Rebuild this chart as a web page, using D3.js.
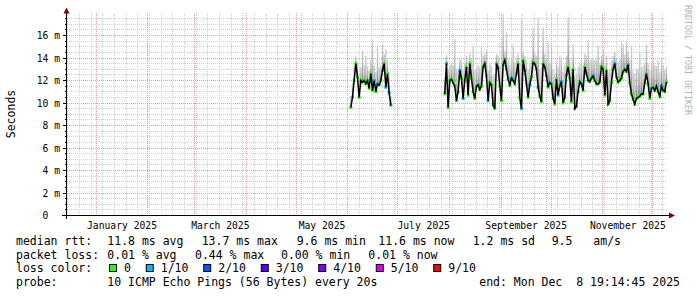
<!DOCTYPE html>
<html><head><meta charset="utf-8">
<script src="https://cdn.jsdelivr.net/npm/d3@7"></script>
<style>
html,body{margin:0;padding:0;background:#fff;}
svg{display:block;}
text{font-family:"DejaVu Sans Mono",monospace;}
</style></head>
<body><svg id="c" width="697" height="297"></svg>
<script>
// ---------- DATA ----------
const yTicks = [0, 2, 4, 6, 8, 10, 12, 14, 16];
const yTickLabels = ["0", "2 m", "4 m", "6 m", "8 m", "10 m", "12 m", "14 m", "16 m"];
const monthLabels = ["January 2025", "March 2025", "May 2025", "July 2025", "September 2025", "November 2025"];
const monthLabelStarts = ["2025-01-01", "2025-03-01", "2025-05-01", "2025-07-01", "2025-09-01", "2025-11-01"];

// segment 1: daily samples from 2025-06-02
const seg1Start = "2025-06-02T07:00:00Z";
const seg1Median = [9.6,10.5,12.0,13.5,12.3,10.5,12.0,11.85,12.0,11.7,12.0,11.3,12.6,11.1,12.0,11.0,11.7,11.6,12.0,12.9,13.5,11.4,12.6,10.9,9.8];
const seg1SmokeHi = [10.6,11.8,13.3,14.2,13.6,12.2,13.2,14.7,13.4,14.2,13.3,12.9,13.8,15.6,13.4,12.8,15.1,13.2,13.4,15.3,14.4,14.8,13.8,12.4,10.6];
const seg1Loss = [0,0,0,0,0,0,0,0,0,0,0,0,0,0,1,0,1,0,0,1,0,1,0,1,1];

// segment 2: daily samples from 2025-07-28
const seg2Start = "2025-07-28T16:00:00Z";
const seg2Median = [
 10.8,13.5,9.6,12.0,12.1,11.8,11.5,10.2,11.0,12.9,
 12.2,10.4,12.0,13.2,10.7,13.5,12.2,11.0,10.4,11.5,
 11.6,11.2,11.5,13.2,13.5,12.4,10.2,11.8,11.6,9.8,
 9.5,13.5,13.1,11.5,10.2,13.4,13.8,13.0,12.1,11.6,
 12.2,12.0,11.7,12.6,13.5,10.5,9.5,13.8,12.9,11.7,
 10.5,11.6,12.3,13.6,13.5,13.0,11.4,10.6,10.1,13.5,
 13.2,12.4,11.4,11.8,11.7,10.4,9.9,12.1,10.7,11.5,
 11.9,10.0,10.5,12.5,13.2,12.2,10.1,13.0,9.5,9.7,
 11.0,11.9,11.7,11.1,13.2,12.6,12.0,11.9,12.2,12.4,
 12.0,11.7,11.7,11.85,13.2,13.0,10.7,12.9,9.9,10.2,
 11.8,13.0,13.5,12.3,11.85,12.0,12.2,12.8,13.0,12.8,
 13.4,11.8,10.8,10.3,9.9,10.4,10.5,10.6,10.8,10.8,
 11.8,12.6,11.7,10.4,11.3,11.4,11.1,11.5,11.0,10.6,
 11.5,11.1,11.0,11.85];
const seg2SmokeHi = [
 12.2,14.3,13.0,13.4,13.6,13.3,15.7,13.0,12.8,14.0,
 13.8,12.9,13.6,14.2,13.2,14.4,13.9,15.1,12.9,13.2,
 13.4,13.2,15.0,14.2,14.4,14.7,12.9,13.6,13.3,12.4,
 12.6,14.4,14.2,13.4,13.2,17.9,14.6,16.3,13.8,13.4,
 13.9,15.2,13.6,14.0,14.4,13.5,17.6,14.6,14.2,13.8,
 13.0,13.6,14.0,16.7,14.4,14.2,17.6,13.0,13.2,16.7,
 14.4,14.1,15.4,13.6,15.5,13.0,12.6,13.8,13.2,14.2,
 13.9,12.8,13.4,14.2,17.6,14.0,13.0,15.2,12.4,12.6,
 13.2,13.6,13.8,13.4,14.4,14.2,15.5,13.8,14.0,14.0,
 13.8,13.9,15.1,13.6,14.2,14.8,13.4,14.2,12.8,13.0,
 13.8,14.2,14.5,14.0,13.6,13.9,15.5,15.2,14.3,15.4,
 14.6,13.8,15.0,12.9,12.6,13.0,13.1,14.5,13.2,13.3,
 13.6,15.2,13.5,12.9,13.5,13.9,13.4,13.3,13.8,12.8,
 13.9,13.4,13.0,13.2];
const seg2Loss = [
 0,1,0,0,0,0,0,0,0,1,
 0,1,0,0,0,0,0,0,0,0,
 1,0,0,0,0,0,1,0,0,0,
 0,0,1,0,0,0,0,0,0,0,
 1,0,0,0,0,0,1,0,1,0,
 0,1,0,0,0,0,1,0,0,0,
 0,1,0,1,0,0,0,0,1,0,
 1,0,0,1,0,0,0,0,0,0,
 0,0,1,0,0,0,1,0,0,1,
 0,0,1,0,0,0,0,0,0,0,
 0,0,1,0,0,0,0,0,0,0,
 1,0,0,0,0,0,0,0,1,0,
 0,0,0,0,1,0,0,0,0,0,
 1,0,0,0];

const lossLabels = ["0", "1/10", "2/10", "3/10", "4/10", "5/10", "9/10"];
const lossColors = ["#26ff00", "#00b8ff", "#0059ff", "#5e00ff", "#7e00ff", "#dd00ff", "#ff0000"];

const legendRtt = ["11.8 ms avg", "13.7 ms max", "9.6 ms min", "11.6 ms now", "1.2 ms sd", "9.5", "am/s"];
const legendLoss = ["0.01 % avg", "0.44 % max", "0.00 % min", "0.01 % now"];
const probeText = "10 ICMP Echo Pings (56 Bytes) every 20s";
const endText = "end: Mon Dec  8 19:14:45 2025";

// ---------- DRAW ----------
const svg = d3.select("#c");
const t0 = new Date(Date.UTC(2024, 11, 14, 12)), t1 = new Date(Date.UTC(2025, 11, 9, 12));
const x = d3.scaleUtc().domain([t0, t1]).range([67, 667]);
const y = d3.scaleLinear().domain([0, 18]).range([215.5, 13]);
const c = v => Math.round(v - 0.5) + 0.5;
const DAY = 86400000;
const pxDay = x(new Date(t0.getTime() + DAY)) - x(t0);

svg.append("rect").attr("width", 697).attr("height", 297).attr("fill", "#fff");

const grid = svg.append("g");
d3.range(0.5, 18, 0.5).filter(v => v % 2 !== 0).forEach(v => {
  grid.append("line").attr("x1", 67).attr("x2", 667).attr("y1", c(y(v))).attr("y2", c(y(v)))
    .attr("stroke", "#cfcfcf").attr("stroke-dasharray", "1,1");
});
const months = d3.utcMonth.range(t0, t1);
d3.utcSunday.range(t0, t1).filter(d => d.getUTCDate() !== 1).forEach(d => {
  grid.append("line").attr("x1", c(x(d))).attr("x2", c(x(d))).attr("y1", 13).attr("y2", 215)
    .attr("stroke", "#cfcfcf").attr("stroke-dasharray", "1,1");
});
yTicks.filter(v => v > 0).forEach(v => {
  grid.append("line").attr("x1", 67).attr("x2", 667).attr("y1", c(y(v))).attr("y2", c(y(v)))
    .attr("stroke", "#ec9a9a").attr("stroke-dasharray", "1,1");
});
months.forEach(d => {
  grid.append("line").attr("x1", c(x(d))).attr("x2", c(x(d))).attr("y1", 13).attr("y2", 215)
    .attr("stroke", "#ec9a9a").attr("stroke-dasharray", "1,1");
});

const defs = svg.append("defs");
const gr = defs.append("linearGradient").attr("id", "smoke").attr("x1", 0).attr("y1", 0).attr("x2", 0).attr("y2", 1);
gr.append("stop").attr("offset", "0%").attr("stop-color", "#d0d0d0");
gr.append("stop").attr("offset", "50%").attr("stop-color", "#b8b8b8");
gr.append("stop").attr("offset", "100%").attr("stop-color", "#7c7c7c");

function buildSeg(start, med, hi, loss) {
  const s = new Date(start).getTime();
  return med.map((m, i) => ({ t: new Date(s + i * DAY), m, hi: hi[i], loss: loss[i] }));
}
const segs = [buildSeg(seg1Start, seg1Median, seg1SmokeHi, seg1Loss),
              buildSeg(seg2Start, seg2Median, seg2SmokeHi, seg2Loss)];

const dataG = svg.append("g");
segs.forEach(seg => {
  dataG.append("g").selectAll("rect").data(seg).join("rect")
    .attr("x", d => x(d.t) + 0.2).attr("width", pxDay - 0.3)
    .attr("y", d => y(d.hi)).attr("height", d => y(d.m) - y(d.hi) + 0.8)
    .attr("fill", "url(#smoke)");
});
segs.forEach(seg => {
  dataG.append("g").selectAll("rect").data(seg).join("rect")
    .attr("x", d => x(d.t) + pxDay / 2 - 1.5).attr("y", d => y(d.m) - 1.5)
    .attr("width", 3).attr("height", 3)
    .attr("fill", d => lossColors[d.loss]);
});
const line = d3.line().x(d => x(d.t) + pxDay / 2).y(d => y(d.m));
segs.forEach(seg => {
  dataG.append("path").datum(seg).attr("d", line).attr("fill", "none")
    .attr("stroke", "#000").attr("stroke-width", 1.5);
});

const ax = svg.append("g");
yTicks.forEach(v => {
  ax.append("line").attr("x1", 63).attr("x2", 67).attr("y1", c(y(v))).attr("y2", c(y(v))).attr("stroke", "#000");
});
d3.range(0.5, 18, 0.5).filter(v => v % 2 !== 0).forEach(v => {
  ax.append("line").attr("x1", 65).attr("x2", 67).attr("y1", c(y(v))).attr("y2", c(y(v))).attr("stroke", "#000");
});
ax.append("line").attr("x1", 62).attr("x2", 670).attr("y1", 215.5).attr("y2", 215.5).attr("stroke", "#000");
ax.append("line").attr("x1", 66.5).attr("x2", 66.5).attr("y1", 10).attr("y2", 219).attr("stroke", "#000");
ax.append("path").attr("d", "M63.5,13.5 L69.5,13.5 L66.5,7.5 Z").attr("fill", "#800000");
ax.append("path").attr("d", "M669,212.5 L669,218.5 L675,215.5 Z").attr("fill", "#800000");

yTicks.forEach((v, i) => {
  const lab = yTickLabels[i];
  const tx = lab.indexOf(" ") < 0 ? 60 - 2 * 5.84 : 60;
  svg.append("text").attr("x", tx).attr("y", c(y(v)) + 3.5).attr("text-anchor", "end")
    .attr("font-size", "9.7px").attr("fill", "#000").text(lab);
});
monthLabels.forEach((lab, i) => {
  const a = new Date(monthLabelStarts[i] + "T00:00:00Z");
  const b = d3.utcMonth.offset(a, 1);
  svg.append("text").attr("x", (x(a) + x(b)) / 2).attr("y", 228.5).attr("text-anchor", "middle")
    .attr("font-size", "9.7px").attr("fill", "#000").text(lab);
});
svg.append("text").attr("transform", "translate(14.5,114) rotate(-90)").attr("text-anchor", "middle")
  .attr("font-size", "11.5px").attr("fill", "#000").text("Seconds");
svg.append("text").attr("transform", "translate(685,5) rotate(90)").attr("font-size", "8.3px")
  .attr("fill", "#b4b4b4").text("RRDTOOL / TOBI OETIKER");

const fs = "11.5px";
const L = (tx, ty, s, anchor) => svg.append("text").attr("x", tx).attr("y", ty).attr("font-size", fs)
  .attr("fill", "#000").attr("text-anchor", anchor || "start").style("white-space", "pre").text(s);
const rowY = [245, 258.7, 272.4, 286];
L(16, rowY[0], "median rtt:");
const rttX = [107.3, 201.7, 296.7, 378.3, 472.7, 551.7, 593.3];
legendRtt.forEach((s, i) => L(rttX[i], rowY[0], s));
L(16, rowY[1], "packet loss:");
const lossX = [107.3, 195, 281, 368.3];
legendLoss.forEach((s, i) => L(lossX[i], rowY[1], s));
L(16, rowY[2], "loss color:");
let lx = 109;
lossLabels.forEach((s, i) => {
  svg.append("rect").attr("x", lx + 0.5).attr("y", 264.5).attr("width", 7).attr("height", 7)
    .attr("fill", lossColors[i]).attr("stroke", "#000");
  const t = L(lx + 15, rowY[2], s);
  lx = lx + 15 + t.node().getComputedTextLength() + 14.8;
});
L(16, rowY[3], "probe:");
L(107.3, rowY[3], probeText);
L(680, rowY[3], endText, "end");
</script></body></html>
